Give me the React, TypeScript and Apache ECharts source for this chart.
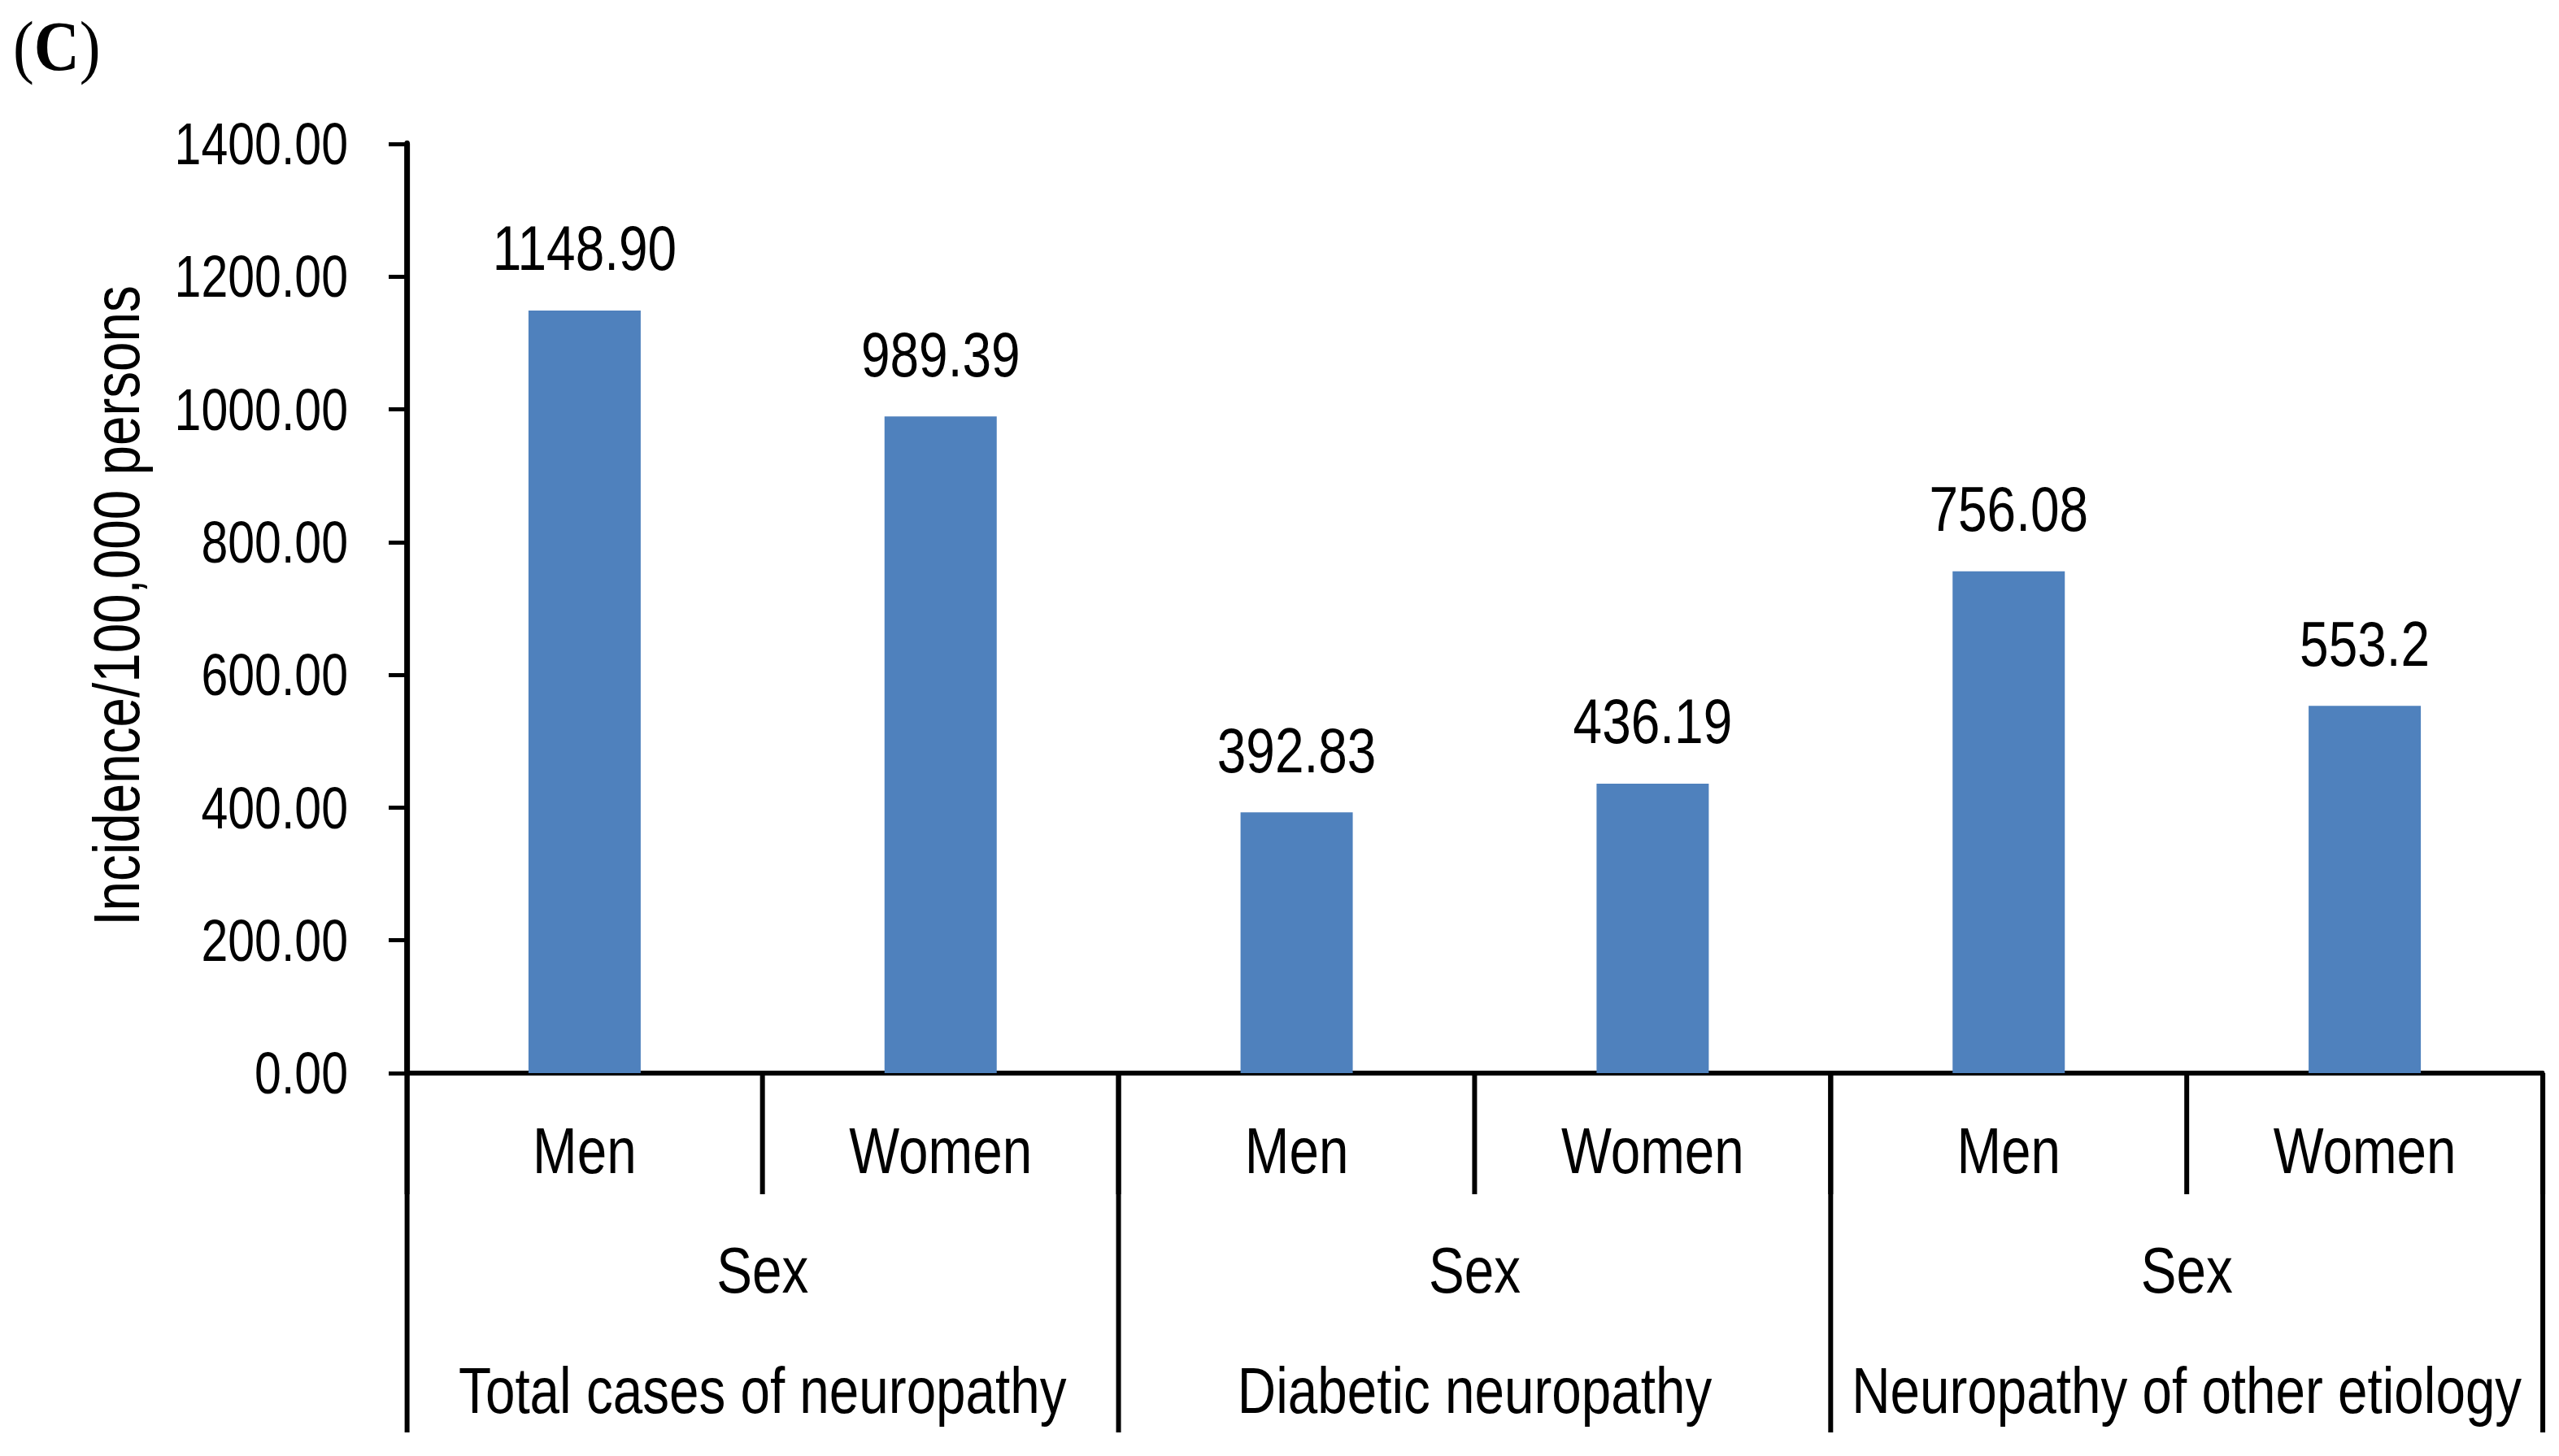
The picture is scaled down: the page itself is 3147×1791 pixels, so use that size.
import React, { useEffect, useRef } from "react";
import * as echarts from "echarts";

// ---- data ----
const categories = ["Men", "Women", "Men", "Women", "Men", "Women"];
const groups = ["Total cases of neuropathy", "Diabetic neuropathy", "Neuropathy of other etiology"];
const levelLabel = "Sex";
const values = [1148.9, 989.39, 392.83, 436.19, 756.08, 553.2];
const valueLabels = ["1148.90", "989.39", "392.83", "436.19", "756.08", "553.2"];
const yMin = 0;
const yMax = 1400;
const yStep = 200;
const yAxisName = "Incidence/100,000 persons";
const panelLetter = "C";

// The reference uses a narrow (Arial Narrow–like) face; we render Liberation Sans
// and compress the whole drawing horizontally to reproduce it.
const SQUISH = 0.82;
const OUT_W = 3147;
const OUT_H = 1791;
const LOG_W = Math.round(OUT_W / SQUISH);
const X = (px: number) => px / SQUISH; // actual px -> logical px (horizontal)

const SANS = '"Liberation Sans", Arial, Helvetica, sans-serif';
const SERIF = '"Liberation Serif", "Times New Roman", serif';

export default function App() {
  const ref = useRef<HTMLDivElement>(null);
  useEffect(() => {
    if (!ref.current) return;
    const chart = echarts.init(ref.current, undefined, { renderer: "svg" });
    const option: any = {
      animation: false,
      backgroundColor: "#ffffff",
      grid: {
        left: X(500),
        right: LOG_W - X(3127),
        top: 177,
        bottom: OUT_H - 1320,
        containLabel: false,
        outerBoundsMode: "none",
      },
      graphic: [
        {
          type: "text",
          x: X(16),
          y: 57,
          scaleX: 1.1,
          style: {
            text: "{p|(}{b|" + panelLetter + "}{p|)}",
            verticalAlign: "middle",
            align: "left",
            rich: {
              p: { fontFamily: SERIF, fontSize: 86, fill: "#000", fontWeight: "normal" },
              b: { fontFamily: SERIF, fontSize: 86, fill: "#000", fontWeight: "bold" },
            },
          },
        },
        {
          type: "text",
          x: X(144),
          y: 745,
          rotation: Math.PI / 2,
          scaleX: SQUISH,
          scaleY: 1 / SQUISH,
          style: {
            text: yAxisName,
            align: "center",
            verticalAlign: "middle",
            fontFamily: SANS,
            fontSize: 80,
            fill: "#000",
          },
        },
      ],
      xAxis: [
        {
          type: "category",
          gridIndex: 0,
          position: "bottom",
          data: categories,
          axisLine: { show: true, lineStyle: { color: "#000", width: 6 } },
          axisTick: { show: true, interval: 0, length: 149, lineStyle: { color: "#000", width: 6 / SQUISH } },
          axisLabel: { interval: 0, margin: 56, color: "#000", fontSize: 80, fontFamily: SANS, lineHeight: 80 },
        },
        {
          type: "category",
          gridIndex: 0,
          position: "bottom",
          data: groups,
          axisLine: { show: false },
          axisTick: { show: true, interval: 0, length: 442, lineStyle: { color: "#000", width: 6 / SQUISH } },
          axisLabel: {
            interval: 0,
            margin: 169,
            color: "#000",
            fontSize: 80,
            fontFamily: SANS,
            lineHeight: 148,
            formatter: (v: string) => levelLabel + "\n" + v,
          },
        },
      ],
      yAxis: {
        type: "value",
        min: yMin,
        max: yMax,
        interval: yStep,
        axisLine: { show: true, lineStyle: { color: "#000", width: 7 / SQUISH } },
        axisTick: { show: true, length: X(22), lineStyle: { color: "#000", width: 5 } },
        splitLine: { show: false },
        axisLabel: {
          margin: X(72),
          color: "#000",
          fontSize: 72,
          fontFamily: SANS,
          formatter: (v: number) => v.toFixed(2),
        },
      },
      series: [
        {
          type: "bar",
          xAxisIndex: 0,
          yAxisIndex: 0,
          data: values,
          barWidth: X(138),
          itemStyle: { color: "#4F81BD" },
          label: {
            show: true,
            position: "top",
            distance: 38,
            color: "#000",
            fontSize: 78,
            fontFamily: SANS,
            lineHeight: 78,
            formatter: (p: any) => valueLabels[p.dataIndex],
          },
        },
      ],
    };
    chart.setOption(option);
    return () => chart.dispose();
  }, []);
  return (
    <div
      style={{
        position: "absolute",
        left: 0,
        top: 0,
        width: OUT_W,
        height: OUT_H,
        overflow: "hidden",
        background: "#fff",
      }}
    >
      <div
        ref={ref}
        style={{
          width: LOG_W,
          height: OUT_H,
          transform: `scaleX(${SQUISH})`,
          transformOrigin: "0 0",
        }}
      />
    </div>
  );
}
